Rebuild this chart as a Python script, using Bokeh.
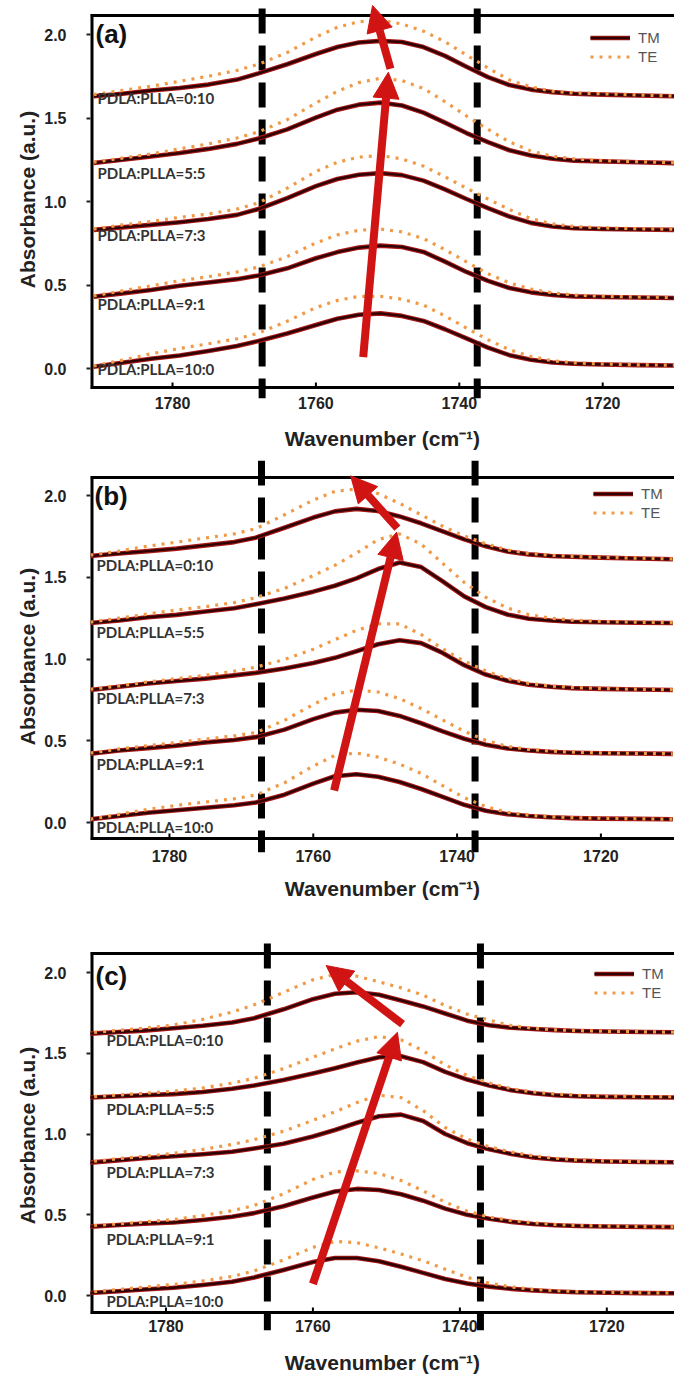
from bokeh.plotting import figure
from bokeh.layouts import column
from bokeh.models import (Range1d, FixedTicker, PrintfTickFormatter, Arrow,
                          NormalHead, Legend, LegendItem, Label)
from bokeh.embed import file_html
from bokeh.resources import INLINE

# ---------------------------------------------------------------- data
wavenumber = [1791, 1787, 1783, 1779, 1775, 1771, 1768, 1764, 1760, 1757, 1754, 1751,
              1748, 1745, 1742, 1739, 1736, 1733, 1730, 1727, 1724, 1720, 1715, 1710]

ratios = ["10:0", "9:1", "7:3", "5:5", "0:10"]

x_ticks = [1780, 1760, 1740, 1720]
y_ticks = [0.0, 0.5, 1.0, 1.5, 2.0]

# (a) stacked spectra, bottom to top
a_tm_10_0 = [0.010, 0.035, 0.058, 0.078, 0.105, 0.135, 0.165, 0.210, 0.260, 0.298, 0.322, 0.330,
             0.315, 0.285, 0.235, 0.180, 0.125, 0.080, 0.052, 0.036, 0.028, 0.024, 0.020, 0.018]
a_te_10_0 = [0.015, 0.050, 0.088, 0.120, 0.148, 0.178, 0.212, 0.283, 0.365, 0.408, 0.432, 0.432,
             0.415, 0.380, 0.315, 0.242, 0.172, 0.112, 0.072, 0.046, 0.034, 0.027, 0.022, 0.020]
a_tm_9_1 = [0.430, 0.450, 0.470, 0.495, 0.515, 0.535, 0.557, 0.600, 0.660, 0.697, 0.724, 0.736,
            0.728, 0.698, 0.640, 0.578, 0.525, 0.482, 0.456, 0.440, 0.432, 0.428, 0.425, 0.422]
a_te_9_1 = [0.435, 0.465, 0.495, 0.525, 0.550, 0.578, 0.607, 0.670, 0.752, 0.800, 0.828, 0.835,
            0.818, 0.778, 0.712, 0.638, 0.568, 0.512, 0.476, 0.453, 0.440, 0.433, 0.428, 0.425]
a_tm_7_3 = [0.830, 0.845, 0.860, 0.876, 0.895, 0.920, 0.955, 1.020, 1.092, 1.135, 1.160, 1.170,
            1.158, 1.125, 1.072, 1.015, 0.960, 0.910, 0.872, 0.850, 0.840, 0.835, 0.832, 0.830]
a_te_7_3 = [0.835, 0.860, 0.880, 0.905, 0.925, 0.955, 0.992, 1.080, 1.180, 1.235, 1.266, 1.275,
            1.255, 1.212, 1.148, 1.080, 1.015, 0.952, 0.897, 0.866, 0.850, 0.842, 0.837, 0.834]
a_tm_5_5 = [1.230, 1.250, 1.270, 1.290, 1.315, 1.345, 1.377, 1.432, 1.502, 1.550, 1.580, 1.592,
            1.575, 1.532, 1.472, 1.410, 1.355, 1.307, 1.276, 1.256, 1.245, 1.240, 1.235, 1.230]
a_te_5_5 = [1.235, 1.260, 1.285, 1.315, 1.345, 1.380, 1.417, 1.490, 1.590, 1.660, 1.712, 1.738,
            1.724, 1.677, 1.598, 1.512, 1.432, 1.357, 1.302, 1.271, 1.255, 1.245, 1.238, 1.232]
a_tm_0_10 = [1.630, 1.645, 1.665, 1.680, 1.700, 1.730, 1.767, 1.822, 1.883, 1.925, 1.952, 1.962,
             1.955, 1.925, 1.872, 1.807, 1.745, 1.697, 1.670, 1.655, 1.645, 1.640, 1.635, 1.630]
a_te_0_10 = [1.640, 1.665, 1.690, 1.720, 1.750, 1.785, 1.822, 1.892, 1.985, 2.043, 2.077, 2.085,
             2.063, 2.020, 1.957, 1.877, 1.800, 1.727, 1.686, 1.661, 1.650, 1.645, 1.638, 1.632]

# (b)
b_tm_10_0 = [0.020, 0.040, 0.060, 0.075, 0.090, 0.105, 0.122, 0.170, 0.238, 0.283, 0.295, 0.280,
             0.248, 0.205, 0.157, 0.108, 0.072, 0.051, 0.040, 0.032, 0.027, 0.024, 0.022, 0.020]
b_te_10_0 = [0.020, 0.050, 0.080, 0.105, 0.125, 0.145, 0.168, 0.243, 0.345, 0.410, 0.425, 0.400,
             0.357, 0.300, 0.225, 0.152, 0.097, 0.062, 0.045, 0.035, 0.030, 0.026, 0.023, 0.020]
b_tm_9_1 = [0.420, 0.440, 0.455, 0.470, 0.490, 0.505, 0.522, 0.568, 0.632, 0.672, 0.690, 0.682,
            0.652, 0.607, 0.557, 0.512, 0.476, 0.453, 0.440, 0.432, 0.427, 0.424, 0.422, 0.420]
b_te_9_1 = [0.425, 0.450, 0.470, 0.490, 0.510, 0.530, 0.550, 0.625, 0.722, 0.785, 0.810, 0.798,
            0.758, 0.697, 0.627, 0.558, 0.502, 0.466, 0.447, 0.437, 0.430, 0.426, 0.423, 0.420]
b_tm_7_3 = [0.810, 0.830, 0.850, 0.865, 0.880, 0.900, 0.915, 0.942, 0.975, 1.007, 1.047, 1.090,
            1.115, 1.097, 1.037, 0.962, 0.905, 0.867, 0.843, 0.830, 0.822, 0.817, 0.813, 0.810]
b_te_7_3 = [0.815, 0.835, 0.860, 0.880, 0.900, 0.925, 0.950, 0.997, 1.060, 1.118, 1.175, 1.215,
            1.215, 1.150, 1.062, 0.987, 0.927, 0.881, 0.851, 0.835, 0.826, 0.820, 0.815, 0.812]
b_tm_5_5 = [1.220, 1.235, 1.255, 1.270, 1.290, 1.310, 1.335, 1.370, 1.412, 1.448, 1.493, 1.550,
            1.590, 1.562, 1.475, 1.383, 1.317, 1.272, 1.246, 1.235, 1.228, 1.225, 1.222, 1.220]
b_te_5_5 = [1.225, 1.250, 1.275, 1.300, 1.320, 1.345, 1.375, 1.432, 1.510, 1.573, 1.648, 1.730,
            1.765, 1.703, 1.585, 1.468, 1.377, 1.312, 1.271, 1.250, 1.238, 1.230, 1.225, 1.222]
b_tm_0_10 = [1.630, 1.645, 1.660, 1.675, 1.695, 1.715, 1.742, 1.803, 1.865, 1.903, 1.918, 1.905,
             1.872, 1.830, 1.780, 1.732, 1.690, 1.657, 1.640, 1.630, 1.625, 1.620, 1.615, 1.610]
b_te_0_10 = [1.635, 1.660, 1.690, 1.715, 1.740, 1.765, 1.797, 1.882, 1.972, 2.025, 2.040, 2.012,
             1.952, 1.882, 1.812, 1.752, 1.705, 1.667, 1.645, 1.635, 1.628, 1.622, 1.617, 1.612]

# (c)
c_tm_10_0 = [0.014, 0.025, 0.037, 0.048, 0.065, 0.085, 0.112, 0.158, 0.207, 0.232, 0.232, 0.212,
             0.178, 0.140, 0.102, 0.074, 0.055, 0.041, 0.032, 0.025, 0.020, 0.017, 0.015, 0.014]
c_te_10_0 = [0.018, 0.035, 0.052, 0.068, 0.090, 0.118, 0.152, 0.220, 0.298, 0.335, 0.327, 0.295,
             0.257, 0.215, 0.163, 0.112, 0.076, 0.053, 0.038, 0.030, 0.024, 0.020, 0.017, 0.015]
c_tm_9_1 = [0.425, 0.435, 0.445, 0.452, 0.468, 0.488, 0.510, 0.553, 0.607, 0.644, 0.660, 0.653,
            0.627, 0.587, 0.538, 0.500, 0.475, 0.456, 0.443, 0.435, 0.430, 0.427, 0.425, 0.423]
c_te_9_1 = [0.430, 0.442, 0.455, 0.470, 0.495, 0.525, 0.557, 0.630, 0.718, 0.765, 0.772, 0.755,
            0.712, 0.648, 0.578, 0.522, 0.486, 0.464, 0.450, 0.440, 0.434, 0.430, 0.427, 0.425]
c_tm_7_3 = [0.820, 0.835, 0.850, 0.862, 0.875, 0.890, 0.910, 0.940, 0.985, 1.025, 1.070, 1.110,
            1.120, 1.080, 1.000, 0.943, 0.905, 0.876, 0.855, 0.842, 0.835, 0.830, 0.827, 0.825]
c_te_7_3 = [0.825, 0.845, 0.862, 0.880, 0.905, 0.935, 0.965, 1.017, 1.085, 1.137, 1.195, 1.240,
            1.225, 1.145, 1.040, 0.968, 0.921, 0.888, 0.865, 0.850, 0.840, 0.833, 0.829, 0.826]
c_tm_5_5 = [1.225, 1.232, 1.240, 1.247, 1.260, 1.280, 1.300, 1.335, 1.375, 1.407, 1.443, 1.475,
            1.482, 1.445, 1.385, 1.337, 1.300, 1.271, 1.252, 1.240, 1.234, 1.230, 1.228, 1.226]
c_te_5_5 = [1.228, 1.240, 1.252, 1.265, 1.285, 1.315, 1.345, 1.405, 1.475, 1.527, 1.575, 1.603,
            1.583, 1.515, 1.428, 1.362, 1.316, 1.281, 1.260, 1.248, 1.240, 1.235, 1.232, 1.230]
c_tm_0_10 = [1.620, 1.630, 1.640, 1.655, 1.670, 1.690, 1.717, 1.772, 1.835, 1.868, 1.878, 1.862,
             1.827, 1.790, 1.746, 1.702, 1.673, 1.658, 1.650, 1.643, 1.638, 1.635, 1.632, 1.630]
c_te_0_10 = [1.625, 1.640, 1.655, 1.675, 1.710, 1.755, 1.800, 1.877, 1.955, 1.988, 1.977, 1.942,
             1.905, 1.860, 1.795, 1.742, 1.705, 1.671, 1.655, 1.645, 1.640, 1.636, 1.633, 1.630]

# band edges (dashed markers) per panel
edges_a = [1767.5, 1737.5]
edges_b = [1767.2, 1737.5]
edges_c = [1766.2, 1737.2]

# peak-shift arrows per panel: (x_start, y_start, x_end, y_end)
arrows_a = [(1753.4, 0.068, 1749.9, 1.774), (1749.6, 1.795, 1752.1, 2.174)]
arrows_b = [(1757.1, 0.196, 1748.4, 1.776), (1748.3, 1.800, 1754.8, 2.120)]
arrows_c = [(1760.0, 0.072, 1748.5, 1.630), (1747.8, 1.680, 1758.2, 2.043)]

tm_a = [a_tm_10_0, a_tm_9_1, a_tm_7_3, a_tm_5_5, a_tm_0_10]
te_a = [a_te_10_0, a_te_9_1, a_te_7_3, a_te_5_5, a_te_0_10]
tm_b = [b_tm_10_0, b_tm_9_1, b_tm_7_3, b_tm_5_5, b_tm_0_10]
te_b = [b_te_10_0, b_te_9_1, b_te_7_3, b_te_5_5, b_te_0_10]
tm_c = [c_tm_10_0, c_tm_9_1, c_tm_7_3, c_tm_5_5, c_tm_0_10]
te_c = [c_te_10_0, c_te_9_1, c_te_7_3, c_te_5_5, c_te_0_10]

# ---------------------------------------------------------------- layout (pixels)
WIDTH = 674
RED = "#d01414"
TM_HALO = "#a81616"
TM_CORE = "#2c0404"
TE_COLOR = "#f09a48"
AXIS_FONT = "Liberation Sans"

panels = [
    dict(tag="(a)", height=460, frame_top=0, frame_bottom=398, frame_left=90,
         x_ref_px=172.0, x_scale=7.17, y0_px=368.0, y_scale=167.0,
         box_top=15, box_bottom=387, dash_top=8,
         xtick_standoff=-2, xlabel_standoff=15,
         legend_px=(590, 28), tag_px=(95, 33),
         label_x_px=97, label_y=[0.00, 0.388, 0.80, 1.168, 1.617],
         tm=tm_a, te=te_a, edges=edges_a, arrows=arrows_a),
    dict(tag="(b)", height=460, frame_top=0, frame_bottom=392, frame_left=86,
         x_ref_px=165.5, x_scale=7.24, y0_px=362.0, y_scale=163.5,
         box_top=17, box_bottom=378, dash_top=0,
         xtick_standoff=-3, xlabel_standoff=12,
         legend_px=(589, 24), tag_px=(90, 35),
         label_x_px=92, label_y=[-0.029, 0.359, 0.763, 1.164, 1.572],
         tm=tm_b, te=te_b, edges=edges_b, arrows=arrows_b),
    dict(tag="(c)", height=465, frame_top=20, frame_bottom=410, frame_left=89,
         x_ref_px=164.6, x_scale=7.36, y0_px=375.0, y_scale=161.5,
         box_top=33, box_bottom=392, dash_top=23,
         xtick_standoff=-11, xlabel_standoff=16,
         legend_px=(593, 44), tag_px=(94, 55),
         label_x_px=105, label_y=[-0.031, 0.351, 0.763, 1.156, 1.579],
         tm=tm_c, te=te_c, edges=edges_c, arrows=arrows_c),
]


def make_panel(cfg):
    H, T, B, L = cfg["height"], cfg["frame_top"], cfg["frame_bottom"], cfg["frame_left"]

    def px2x(px):
        return 1780 - (px - cfg["x_ref_px"]) / cfg["x_scale"]

    def px2y(py):
        return (cfg["y0_px"] - py) / cfg["y_scale"]

    x_start, x_end = px2x(L), px2x(WIDTH)
    y_hi, y_lo = px2y(T), px2y(B)

    p = figure(width=WIDTH, height=H, output_backend="svg", toolbar_location=None,
               x_range=Range1d(x_start, x_end), y_range=Range1d(y_lo, y_hi),
               min_border_left=L, min_border_right=0, min_border_top=T,
               min_border_bottom=H - B)
    p.outline_line_color = None
    p.xgrid.visible = False
    p.ygrid.visible = False
    p.background_fill_color = "white"
    p.border_fill_color = "white"

    # x axis: labels only, the frame line is drawn separately
    xa = p.xaxis[0]
    xa.ticker = FixedTicker(ticks=x_ticks)
    xa.axis_line_color = None
    xa.major_tick_line_color = None
    xa.minor_tick_line_color = None
    xa.major_tick_in = 0
    xa.major_tick_out = 0
    xa.major_label_standoff = cfg["xtick_standoff"]
    xa.major_label_text_font = AXIS_FONT
    xa.major_label_text_font_size = "16px"
    xa.major_label_text_font_style = "bold"
    xa.major_label_text_color = "#222222"
    xa.axis_label = "Wavenumber (cm\u207b\u00b9)"
    xa.axis_label_text_font = AXIS_FONT
    xa.axis_label_text_font_size = "21px"
    xa.axis_label_text_font_style = "bold"
    xa.axis_label_text_color = "#222222"
    xa.axis_label_standoff = cfg["xlabel_standoff"]

    ya = p.yaxis[0]
    ya.ticker = FixedTicker(ticks=y_ticks)
    ya.formatter = PrintfTickFormatter(format="%.1f")
    ya.axis_line_color = None
    ya.minor_tick_line_color = None
    ya.major_tick_in = 0
    ya.major_tick_out = 4
    ya.major_tick_line_width = 2
    ya.major_tick_line_color = "#222222"
    ya.major_label_standoff = 20
    ya.major_label_text_font = AXIS_FONT
    ya.major_label_text_font_size = "16px"
    ya.major_label_text_font_style = "bold"
    ya.major_label_text_color = "#222222"
    ya.axis_label = "Absorbance (a.u.)"
    ya.axis_label_text_font = AXIS_FONT
    ya.axis_label_text_font_size = "21px"
    ya.axis_label_text_font_style = "bold"
    ya.axis_label_text_color = "#222222"
    ya.axis_label_standoff = 2

    # open frame: top, bottom and left edges
    y_top, y_bot = px2y(cfg["box_top"]), px2y(cfg["box_bottom"])
    p.segment(x0=[x_start], y0=[y_top], x1=[x_end], y1=[y_top], line_color="black", line_width=3)
    p.segment(x0=[x_start], y0=[y_bot], x1=[x_end], y1=[y_bot], line_color="black", line_width=3)
    p.segment(x0=[x_start], y0=[px2y(cfg["box_bottom"] + 1.5)], x1=[x_start],
              y1=[px2y(cfg["box_top"] - 1.5)], line_color="black", line_width=6)
    tick_len = 5 / cfg["y_scale"]
    p.segment(x0=x_ticks, y0=[y_bot] * len(x_ticks), x1=x_ticks,
              y1=[y_bot + tick_len] * len(x_ticks), line_color="black", line_width=2)

    # band edge markers
    for xv in cfg["edges"]:
        p.segment(x0=[xv], y0=[px2y(cfg["dash_top"])], x1=[xv], y1=[y_lo],
                  line_color="black", line_width=7, line_dash="25 12")

    # spectra
    first = None
    for tm, te in zip(cfg["tm"], cfg["te"]):
        halo = p.line(wavenumber, tm, line_color=TM_HALO, line_width=4.6, line_join="round")
        core = p.line(wavenumber, tm, line_color=TM_CORE, line_width=2.4, line_join="round")
        dots = p.line(wavenumber, te, line_color=TE_COLOR, line_width=3.2, line_dash="3 6")
        if first is None:
            first = (halo, core, dots)

    # sample labels
    lx = px2x(cfg["label_x_px"])
    for r, yv in zip(ratios, cfg["label_y"]):
        p.add_layout(Label(x=lx, y=yv, text=f"PDLA:PLLA={r}", text_font="Lato",
                           text_font_style="bold", text_font_size="15px",
                           text_color="#333333", text_baseline="middle", text_align="left"))

    # panel tag
    tx, ty = cfg["tag_px"]
    p.add_layout(Label(x=px2x(tx), y=px2y(ty), text=cfg["tag"], text_font=AXIS_FONT,
                       text_font_style="bold", text_font_size="26px", text_color="#111111",
                       text_baseline="middle", text_align="left"))

    # arrows
    for (xs0, ys0, xs1, ys1) in cfg["arrows"]:
        p.add_layout(Arrow(end=NormalHead(size=26, fill_color=RED, line_color=RED, line_width=1),
                           x_start=xs0, y_start=ys0, x_end=xs1, y_end=ys1,
                           line_color=RED, line_width=8))

    # legend
    gx, gy = cfg["legend_px"]
    row = 19
    legend = Legend(items=[LegendItem(label="TM", renderers=[first[0], first[1]]),
                           LegendItem(label="TE", renderers=[first[2]])],
                    location=(gx - L, (B - T) - (gy - T + 2 * row)),
                    border_line_color=None, background_fill_alpha=0,
                    padding=0, margin=0, spacing=0,
                    glyph_width=40, glyph_height=row, label_height=row,
                    label_standoff=8, label_text_font=AXIS_FONT,
                    label_text_font_size="15px", label_text_color="#555555")
    p.add_layout(legend)
    return p


figs = [make_panel(cfg) for cfg in panels]
layout = column(*figs, spacing=0)

open("out.html", "w").write(file_html(layout, INLINE))
